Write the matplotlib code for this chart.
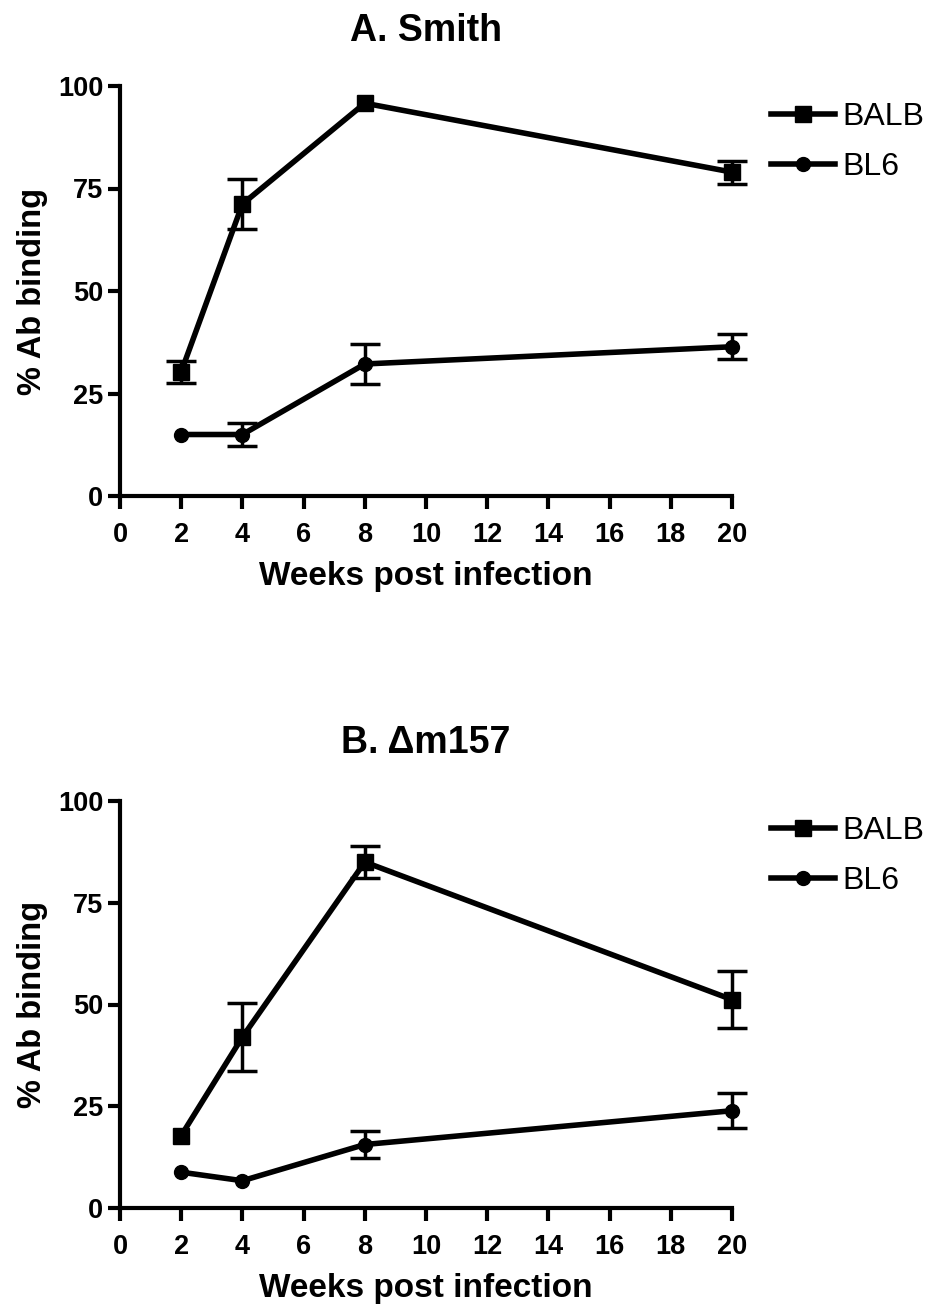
import numpy as np
import matplotlib
matplotlib.use("Agg")
import matplotlib.pyplot as plt

plt.rcParams['font.family'] = ['Liberation Sans', 'DejaVu Sans']

# weeks post infection
weeks = [2, 4, 8, 20]

# panel A: Smith
smith_balb = [30.3, 71.2, 95.8, 79.0]
smith_balb_err = [2.7, 6.0, np.nan, 2.8]
smith_bl6 = [15.0, 15.0, 32.2, 36.4]
smith_bl6_err = [np.nan, 2.7, 4.8, 3.1]

# panel B: delta m157
m157_balb = [17.8, 42.0, 85.0, 51.2]
m157_balb_err = [np.nan, 8.4, 4.0, 7.0]
m157_bl6 = [8.8, 6.7, 15.6, 23.9]
m157_bl6_err = [np.nan, np.nan, 3.2, 4.3]

xticks = list(range(0, 21, 2))
yticks = [0, 25, 50, 75, 100]

fig = plt.figure(figsize=(9.33, 13.06), dpi=100)
W, H = 933, 1306
axA = fig.add_axes([120 / W, 1 - 496 / H, 612 / W, 410 / H])
axB = fig.add_axes([120 / W, 1 - 1208 / H, 612 / W, 407 / H])


def draw_panel(ax, balb, balb_err, bl6, bl6_err, title, title_y, leg_y):
    ax.plot(weeks, balb, color='black', lw=4, marker='s', ms=11,
            label='BALB', clip_on=False, zorder=3)
    ax.plot(weeks, bl6, color='black', lw=4, marker='o', ms=10,
            label='BL6', clip_on=False, zorder=3)
    for y, e in [(balb, balb_err), (bl6, bl6_err)]:
        ax.errorbar(weeks, y, yerr=e, fmt='none', ecolor='black',
                    elinewidth=2.5, capsize=11, capthick=2.5,
                    clip_on=False, zorder=2)

    ax.set_xlim(0, 20)
    ax.set_ylim(0, 100)
    ax.set_xticks(xticks)
    ax.set_yticks(yticks)
    ax.spines['top'].set_visible(False)
    ax.spines['right'].set_visible(False)
    for s in ['left', 'bottom']:
        ax.spines[s].set_linewidth(3)
    ax.tick_params(axis='both', width=3, length=9, direction='out')
    ax.tick_params(axis='x', pad=10)
    ax.tick_params(axis='y', pad=3)
    for lab in ax.get_xticklabels() + ax.get_yticklabels():
        lab.set_fontsize(19.5)
        lab.set_fontweight('bold')

    ax.set_xlabel('Weeks post infection', fontsize=24, fontweight='bold',
                  labelpad=9)
    ax.set_ylabel('% Ab binding', fontsize=23.5, fontweight='bold',
                  labelpad=7)

    fig.text(426 / W, title_y, title, fontsize=27, fontweight='bold',
             ha='center', va='baseline')

    ax.legend(loc='upper left', bbox_to_anchor=(771 / W, leg_y),
              bbox_transform=fig.transFigure, frameon=False, fontsize=23,
              borderpad=0, borderaxespad=0, handlelength=2.0,
              handletextpad=0.22, labelspacing=0.62)


draw_panel(axA, smith_balb, smith_balb_err, smith_bl6, smith_bl6_err,
           'A. Smith', 1 - 41 / H, 1 - 102 / H)
draw_panel(axB, m157_balb, m157_balb_err, m157_bl6, m157_bl6_err,
           'B. \u0394m157', 1 - 753 / H, 1 - 816 / H)

fig.savefig('out.png', dpi=100)
